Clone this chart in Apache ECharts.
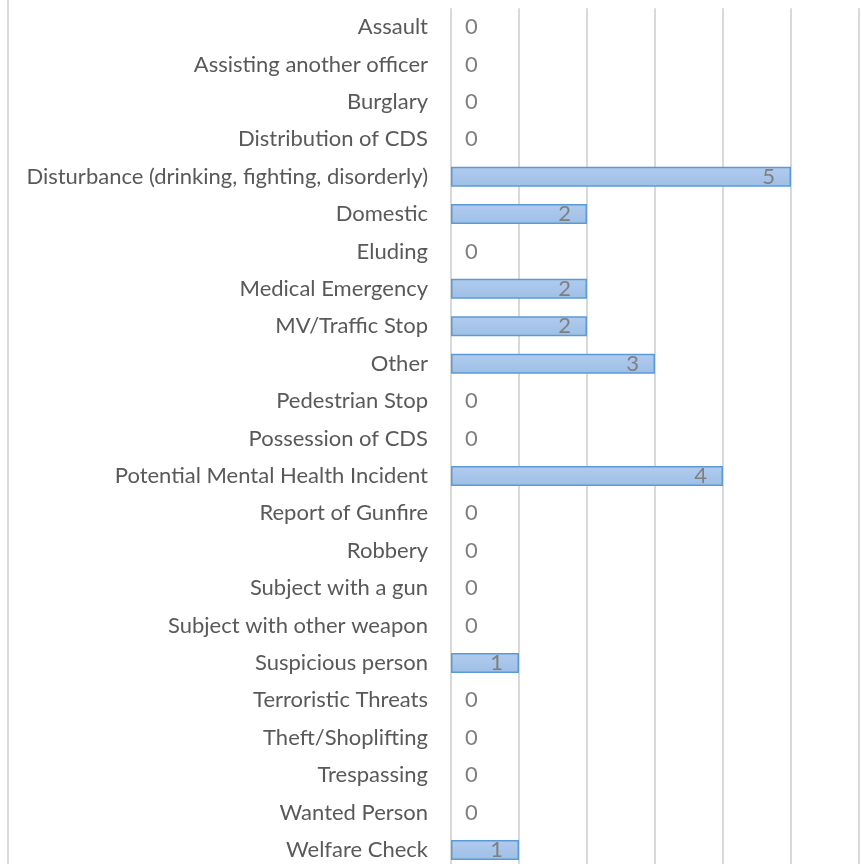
<!DOCTYPE html>
<html>
<head>
<meta charset="utf-8">
<script src="https://cdn.jsdelivr.net/npm/echarts@6/dist/echarts.min.js"></script>
<style>
html,body{margin:0;padding:0;background:#fff;overflow:hidden;width:861px;height:864px;}
#chart{width:861px;height:869px;}
</style>
</head>
<body>
<div id="chart"></div>
<script>
const categories = [
  "Assault",
  "Assisting another officer",
  "Burglary",
  "Distribution of CDS",
  "Disturbance (drinking, fighting, disorderly)",
  "Domestic",
  "Eluding",
  "Medical Emergency",
  "MV/Traffic Stop",
  "Other",
  "Pedestrian Stop",
  "Possession of CDS",
  "Potential Mental Health Incident",
  "Report of Gunfire",
  "Robbery",
  "Subject with a gun",
  "Subject with other weapon",
  "Suspicious person",
  "Terroristic Threats",
  "Theft/Shoplifting",
  "Trespassing",
  "Wanted Person",
  "Welfare Check"
];
const counts = [0,0,0,0,5,2,0,2,2,3,0,0,4,0,0,0,0,1,0,0,0,0,1];
const axisMin = 0, axisMax = 6, axisStep = 1;

const chart = echarts.init(document.getElementById('chart'));
const barData = counts.map(v => v === 0
  ? { value: v, itemStyle: { borderWidth: 0, color: 'rgba(0,0,0,0)' }, label: { position: 'right', distance: 14 } }
  : v);

chart.setOption({
  animation: false,
  backgroundColor: '#ffffff',
  textStyle: { fontFamily: 'Lato' },
  grid: { left: 451, right: 2, top: 8.3, bottom: 0.3, containLabel: false },
  xAxis: {
    type: 'value', min: axisMin, max: axisMax, interval: axisStep,
    axisLabel: { show: false },
    axisLine: { show: false },
    axisTick: { show: false },
    splitLine: { show: true, lineStyle: { color: '#d9d9d9', width: 2 } }
  },
  yAxis: {
    type: 'category', data: categories, inverse: true,
    axisLine: { show: false },
    axisTick: { show: false },
    axisLabel: { color: '#595959', fontSize: 22, fontFamily: 'Lato', margin: 23 }
  },
  graphic: [{
    type: 'line', shape: { x1: 8, y1: 0, x2: 8, y2: 869 },
    style: { stroke: '#d9d9d9', lineWidth: 2 }, silent: true
  }],
  series: [{
    type: 'bar',
    data: barData,
    barWidth: 20,
    itemStyle: {
      color: new echarts.graphic.LinearGradient(0, 0, 0, 1, [
        { offset: 0, color: '#b1cbee' },
        { offset: 1, color: '#9ebfe6' }
      ]),
      borderColor: '#5b9bd5',
      borderWidth: 1.5
    },
    label: {
      show: true, position: 'insideRight', distance: 16,
      color: '#7f7f7f', fontSize: 22, fontFamily: 'Lato'
    }
  }]
});
</script>
</body>
</html>
